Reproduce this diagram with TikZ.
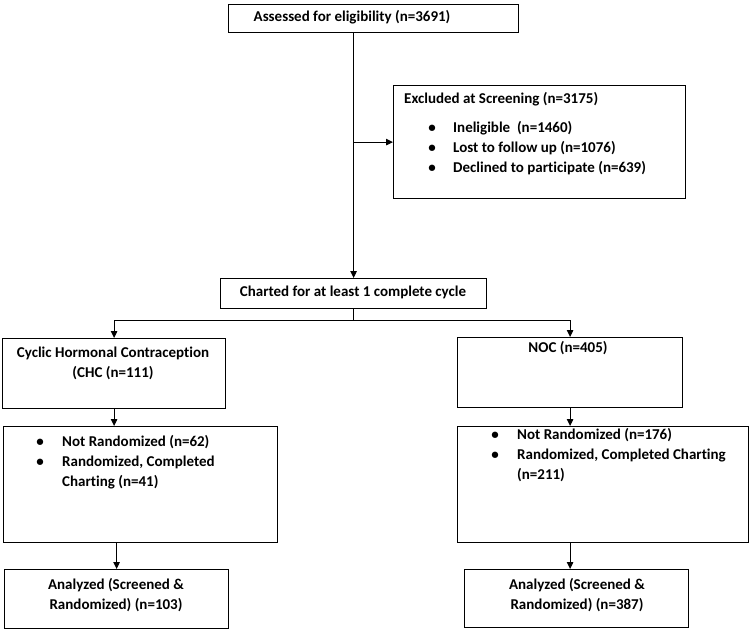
\documentclass[tikz,border=0pt]{standalone}
\usepackage{fontspec}
\setmainfont{Carlito}[RawFeature=-liga]
\usetikzlibrary{arrows.meta}
\begin{document}
\begin{tikzpicture}[x=1pt,y=-1pt,
 box/.style={draw, line width=1.2pt, anchor=north west, inner sep=0pt},
 txt/.style={font=\bfseries\fontsize{15}{20}\selectfont, inner sep=0pt, text height=10.5pt, text depth=3pt},
 ctxt/.style={font=\bfseries\fontsize{15}{20}\selectfont, inner sep=0pt, align=center},
 bul/.style={font=\bfseries\fontsize{15}{20}\selectfont, inner sep=0pt},
 arr/.style={line width=0.9pt, -{Triangle[length=7pt,width=6.5pt]}},
 ln/.style={line width=0.9pt}]
\useasboundingbox (0,0) rectangle (750,630);

% boxes
\node[box, minimum width=290pt, minimum height=28pt] (box1) at (228,4) {};
\node[box, minimum width=292pt, minimum height=113pt] (excl) at (393,85) {};
\node[box, minimum width=266pt, minimum height=30pt] (charted) at (220,278) {};
\node[box, minimum width=223pt, minimum height=70pt] (chc) at (2,338) {};
\node[box, minimum width=225pt, minimum height=70pt] (noc) at (457,337) {};
\node[box, minimum width=274pt, minimum height=116pt] (bl) at (3,426) {};
\node[box, minimum width=291pt, minimum height=116pt] (br) at (457,426) {};
\node[box, minimum width=224pt, minimum height=59pt] (al) at (4,569) {};
\node[box, minimum width=224pt, minimum height=58pt] (ar) at (464,569) {};

% texts
\node[txt] (t1) at (352,18) {Assessed for eligibility (n=3691)};
\node[txt, anchor=west] (te) at (404,100) {Excluded at Screening (n=3175)};
\node[bul] (be1) at (432,129) {\textbullet};
\node[bul] (be2) at (432,149) {\textbullet};
\node[bul] (be3) at (432,169) {\textbullet};
\node[txt, anchor=west] (te1) at (453,129) {Ineligible\ \ (n=1460)};
\node[txt, anchor=west] (te2) at (453,149) {Lost to follow up (n=1076)};
\node[txt, anchor=west] (te3) at (453,169) {Declined to participate (n=639)};
\node[txt] (tc) at (353,293) {Charted for at least 1 complete cycle};
\node[ctxt] (tchc) at (113,363) {Cyclic Hormonal Contraception\\(CHC (n=111)};
\node[txt] (tnoc) at (568,349) {NOC (n=405)};

\node[bul] (bl1) at (40,443) {\textbullet};
\node[bul] (bl2) at (40,463) {\textbullet};
\node[txt, anchor=west] (tl1) at (62,443) {Not Randomized (n=62)};
\node[txt, anchor=west] (tl2) at (62,463) {Randomized, Completed};
\node[txt, anchor=west] (tl3) at (62,483) {Charting (n=41)};

\node[bul] (br1) at (495,436) {\textbullet};
\node[bul] (br2) at (495,456) {\textbullet};
\node[txt, anchor=west] (tr1) at (517,436) {Not Randomized (n=176)};
\node[txt, anchor=west] (tr2) at (517,456) {Randomized, Completed Charting};
\node[txt, anchor=west] (tr3) at (517,476) {(n=211)};

\node[ctxt] (tal) at (116,595) {Analyzed (Screened \&\\Randomized) (n=103)};
\node[ctxt] (tar) at (577,595) {Analyzed (Screened \&\\Randomized) (n=387)};

% connectors
\draw[arr] (charted.north |- box1.south) -- (charted.north);
\draw[arr] (charted.north |- excl.west) -- (excl.west);
\draw[ln] (charted.south) -- ++(0,11) coordinate (split);
\draw[arr] (split) -| (chc.north);
\draw[arr] (split) -| (noc.north);
\draw[arr] (chc.south) -- (chc.south |- bl.north);
\draw[arr] (al.north |- bl.south) -- (al.north);
\draw[arr] (noc.south) -- (noc.south |- br.north);
\draw[arr] (noc.south |- br.south) -- (noc.south |- ar.north);
\end{tikzpicture}
\end{document}
